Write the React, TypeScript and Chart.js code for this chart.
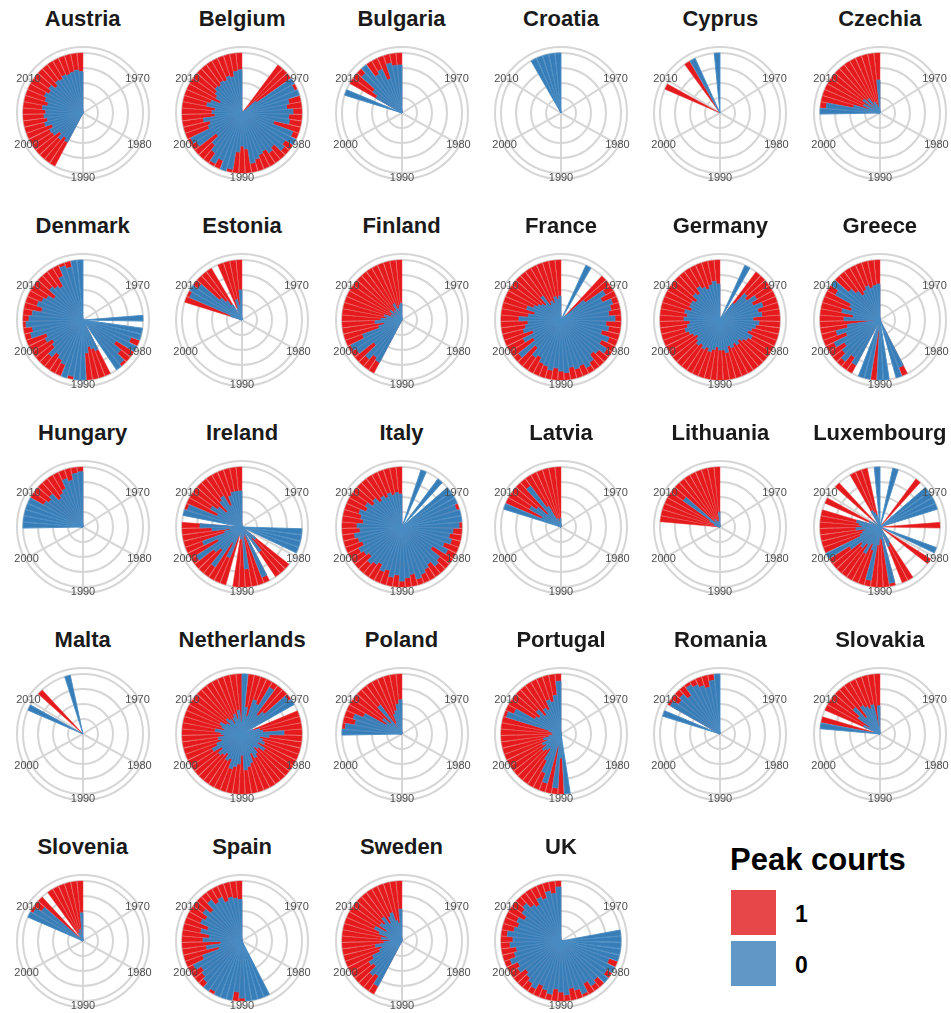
import React, { useEffect, useRef } from 'react';
import { Chart, registerables } from 'chart.js';

Chart.register(...registerables);

// ---------- axis / categories ----------
const YEARS = [
  1961, 1962, 1963, 1964, 1965, 1966, 1967, 1968, 1969, 1970,
  1971, 1972, 1973, 1974, 1975, 1976, 1977, 1978, 1979, 1980,
  1981, 1982, 1983, 1984, 1985, 1986, 1987, 1988, 1989, 1990,
  1991, 1992, 1993, 1994, 1995, 1996, 1997, 1998, 1999, 2000,
  2001, 2002, 2003, 2004, 2005, 2006, 2007, 2008, 2009, 2010,
  2011, 2012, 2013, 2014, 2015, 2016, 2017, 2018, 2019,
];
const DECADES = [1970, 1980, 1990, 2000, 2010];
const R_BREAKS = [0.25, 0.5, 0.75, 1];

const COUNTRIES = [
  'Austria', 'Belgium', 'Bulgaria', 'Croatia', 'Cyprus', 'Czechia',
  'Denmark', 'Estonia', 'Finland', 'France', 'Germany', 'Greece',
  'Hungary', 'Ireland', 'Italy', 'Latvia', 'Lithuania', 'Luxembourg',
  'Malta', 'Netherlands', 'Poland', 'Portugal', 'Romania', 'Slovakia',
  'Slovenia', 'Spain', 'Sweden', 'UK',
];
const START_YEARS = [
  1995, 1967, 2007, 2013, 2004, 2004,
  1973, 2004, 1995, 1961, 1961, 1981,
  2004, 1973, 1961, 2004, 2004, 1961,
  2004, 1961, 2004, 1986, 2007, 2004,
  2004, 1986, 1995, 1973,
];

// ---------- share of references from non-peak courts (0 = blue); remainder = peak courts (1 = red) ----------
// each array starts at the country's START_YEAR; null = no bar that year
const austria = [0.55, 0.5, 0.58, 0.5, 0.6, 0.62, 0.55, 0.66, 0.6, 0.65, 0.62, 0.68, 0.6, 0.66, 0.7, 0.65, 0.7, 0.62, 0.68, 0.66, 0.7, 0.68, 0.7, 0.72, 0.69];
const belgium = [
  0, 0.05, 0.3, 1, 0.95, 1, 0.8, 0.75, 0.85, 0.78,
  0.8, 0.55, 0.9, 1, 0.85, 0.9, 0.75, 0.8, 0.72, 0.75,
  0.8, 0.85, 0.6, 0.55, 0.65, 0.95, 1, 0.85, 0.95, 0.8,
  0.7, 0.55, 0.9, 0.95, 0.6, 0.55, 0.65, 0.45, 0.5, 0.45,
  0.6, 0.55, 0.4, 0.5, 0.55, 0.6, 0.58, 0.62, 0.6, 0.65,
  0.62, 0.7, 0.72,
];
const bulgaria = [null, 1, null, 0.5, 0.6, 0.9, 1, 0.75, 0.8, 0.6, 0.85, 0.8, 0.8];
const croatia = [null, null, 1, 1, 1, 1, 1];
const cyprus = [null, null, null, null, null, 0, null, null, null, null, 0, 1, null, null, null, 1];
const czechia = [null, 1, 0.9, 0.45, 0.2, 0.3, 0.1, 0.35, 0.15, 0.3, 0.1, 0.2, 0.15, 0.05, 0.1, 0.55];
const denmark = [
  null, null, 1, null, 1, 1, 0.85, 1, 0.65, 0.8,
  0.95, 1, null, 0.55, 0.5, 0.45, 0.55, 1, 1, 0.95,
  1, 0.8, 0.75, 0.7, 0.8, 0.65, 0.6, 0.7, 0.65, 0.9,
  0.85, 0.95, 0.9, 0.85, 0.7, 0.8, 0.75, 0.7, 0.6, 0.75,
  0.7, 0.65, 0.8, 0.95, 0.9, 1, 1,
];
const estonia = [null, null, null, null, 0.2, 0.95, 1, 0.9, 0.5, 0.4, 0.3, null, 0.2, 0.35, 0.25, 0.5];
const finland = [0.8, 0.75, 0.85, 0.6, 0.9, 0.95, 0.7, 0.4, 0.3, 0.45, 0.35, 0.25, 0.3, 0.15, 0.2, 0.1, 0.25, 0.15, 0.2, 0.1, 0.3, 0.2, 0.15, 0.25, 0.28];
const france = [
  null, null, null, null, 1, null, null, 0.1, 0.5, 0.85,
  0.75, 0.9, 0.85, 0.8, 0.9, 0.75, 0.8, 0.7, 0.85, 0.75,
  0.9, 0.8, 0.75, 0.85, 0.9, 0.82, 0.85, 0.8, 0.88, 0.85,
  0.8, 0.85, 0.8, 0.78, 0.7, 0.75, 0.6, 0.9, 0.55, 0.7,
  0.5, 0.65, 0.6, 0.55, 0.7, 0.55, 0.45, 0.6, 0.5, 0.45,
  0.4, 0.35, 0.5, 0.3, 0.35, 0.3, 0.4, 0.35, 0.4,
];
const germany = [
  null, null, null, null, 1, null, 0.35, 0.6, 0.55, 0.7,
  0.6, 0.75, 0.65, 0.7, 0.55, 0.65, 0.6, 0.55, 0.5, 0.6,
  0.55, 0.5, 0.45, 0.5, 0.45, 0.5, 0.45, 0.55, 0.5, 0.5,
  0.45, 0.5, 0.55, 0.5, 0.55, 0.5, 0.55, 0.5, 0.45, 0.5,
  0.55, 0.6, 0.55, 0.5, 0.6, 0.55, 0.6, 0.5, 0.55, 0.55,
  0.5, 0.6, 0.55, 0.65, 0.6, 0.55, 0.6, 0.65, 0.6,
];
const greece = [
  null, null, null, null, null, 0.85, 1, null, 1, 1,
  0, 1, 1, null, 0.85, 0.75, 0.9, 0.8, 0.7, 0.85,
  0.6, 0.75, 0.55, 0.1, 0.6, 0.45, 0.65, 0.5, 0.55, 0.85,
  1, 0.7, 0.6, 0.5, 0.55, 0.6, 0.55, 0.58, 0.6,
];
const hungary = [null, 1, 1, 1, 1, 1, 0.75, 0.7, 0.75, 0.6, 0.65, 0.7, 0.85, 0.8, 0.9, 0.92];
const ireland = [
  null, null, null, 1, 1, 1, 1, null, null, 0.3,
  0.25, 0.5, null, 0.9, 0.1, 0.15, 0.7, 0.1, 0.2, null,
  0.15, 0.55, 0.3, 0.8, 0.5, 0.6, 0.9, 0.45, 0.7, 0.3,
  0.2, 0.5, 0.7, null, 1, 0.95, 0.45, 0.6, 0.5, 0.35,
  0.55, 0.6, 0.4, 0.55, 0.6, 0.6, 0.6,
];
const italy = [
  null, null, null, 1, null, null, 1, null, 1, 1,
  1, 0.95, 1, 1, 0.95, 0.85, 0.8, 0.85, 0.75, 0.85,
  0.6, 0.8, 0.85, 0.75, 0.8, 0.85, 0.9, 0.8, 0.85, 0.9,
  0.8, 0.85, 0.75, 0.8, 0.7, 0.75, 0.8, 0.7, 0.75, 0.8,
  0.7, 0.75, 0.8, 0.7, 0.75, 0.65, 0.7, 0.75, 0.65, 0.7,
  0.6, 0.65, 0.55, 0.6, 0.55, 0.6, 0.55, 0.58, 0.55,
];
const latvia = [null, null, null, null, 1, 0.35, 0.6, 0.5, 0.3, 0.85, 0.4, 0.1, 0.15, 0.05, 0.1, 0.15];
const lithuania = [null, null, 0, 0.05, 0.1, 0, 0.2, 0.75, 0.1, 0, 0.15, 0.05, 0.1, 0, 0.05, 0.25];
const luxembourg = [
  null, null, 1, null, null, null, 0, null, 1, 1,
  1, 1, null, null, 0, null, null, null, 1, null,
  0, null, null, null, 0.3, 0.35, null, 0.95, 0.2, 0.15,
  0.3, 0.9, 0.4, 0.3, 0.5, 0.35, 0.45, 0.4, 0.6, 1,
  0.35, 0.3, 0.25, 0.4, 0.3, 0.35, 0.4, null, 0.2, null,
  null, 0.15, null, null, 0.3, 0.25, 0.2, null, 1,
];
const malta = [null, null, null, null, null, 1, null, null, 0, null, null, null, null, 1, null, null];
const netherlands = [
  1, 0.45, 0.3, 0.6, 0.55, 0.9, 0.4, 0.5, 0.95, 1,
  null, 0.2, 0.3, 0.35, 0.7, 0.45, 0.3, 0.35, 0.4, 0.3,
  0.45, 0.35, 0.3, 0.4, 0.45, 0.35, 0.5, 0.55, 0.6, 0.35,
  0.5, 0.55, 0.6, 0.45, 0.5, 0.4, 0.45, 0.5, 0.4, 0.55,
  0.45, 0.35, 0.4, 0.3, 0.35, 0.45, 0.3, 0.35, 0.4, 0.3,
  0.25, 0.35, 0.3, 0.2, 0.3, 0.35, 0.25, 0.4, 0.2,
];
const poland = [null, 1, 0.95, 0.8, 0.85, 0.7, 0.3, 0.4, 0.25, 0.6, 0.1, 0.2, 0.35, 0.4, 0.5, 0.57];
const portugal = [
  null, null, null, 1, 0.4, 0.9, 0.2, 0.85, 0.7, 0.5,
  0.3, 0.35, 0.4, 0.3, 0.35, 0.25, 0.3, 0.2, 0.05, 0.15,
  0.1, 0.2, 0.95, 0.85, 0.5, 0.45, 0.55, 0.4, 0.5, 0.45,
  0.6, 0.55, 0.65, 0.88,
];
const romania = [null, 1, null, 0.95, 0.85, 0.9, 0.8, 0.95, 0.9, 0.85, 0.8, 0.9, 1];
const slovakia = [null, null, 1, 0.1, null, 0.3, 0.2, 0.45, 0.6, 0.35, 0.55, 0.5, 0.45, 0.5, 0.05, 0.47];
const slovenia = [null, null, null, null, null, 1, 0.95, 0.85, 0.1, null, 0.05, 0.15, 0.1, 0.2, 0.1, 0.47];
const spain = [
  1, 1, 1, 1, 0.95, 0.85, 1, 1, 1, 0.95,
  1, 0.9, 0.85, 0.8, 0.9, 0.7, 0.4, 0.6, 0.35, 0.65,
  0.55, 0.7, 0.6, 0.75, 0.7, 0.8, 0.7, 0.85, 0.75, 0.8,
  0.7, 0.75, 0.72, 0.69,
];
const sweden = [0.85, 0.7, 0.75, 0.6, 0.65, 0.55, 0.4, 0.35, 0.45, 0.3, 0.2, 0.35, 0.25, 0.4, 0.5, 0.3, 0.45, 0.4, 0.5, 0.35, 0.45, 0.5, 0.35, 0.3, 0.53];
const uk = [
  null, 1, 1, 1, 1, 1, 0.85, 1, 0.9, 1,
  0.85, 0.9, 0.8, 0.95, 0.85, 0.8, 0.9, 0.85, 0.8, 0.9,
  0.85, 0.8, 0.9, 0.85, 0.8, 0.75, 0.85, 0.8, 0.9, 0.8,
  0.75, 0.85, 0.8, 0.9, 0.8, 0.75, 0.8, 0.7, 0.8, 0.85,
  0.75, 0.7, 0.8, 0.75, 0.85, 0.8, 0.9,
];

const SERIES: (number | null)[][] = [
  austria, belgium, bulgaria, croatia, cyprus, czechia,
  denmark, estonia, finland, france, germany, greece,
  hungary, ireland, italy, latvia, lithuania, luxembourg,
  malta, netherlands, poland, portugal, romania, slovakia,
  slovenia, spain, sweden, uk,
];

const LEGEND_TITLE = 'Peak courts';
const LEGEND_LABELS = ['1', '0'];

// ---------- styling ----------
const RED = '#E41A1C';
const BLUE = '#377EB8';
const BLUE_EDGE = '#4A8CC3';
const RED_EDGE = '#E8383A';
const RED_KEY = '#E8474A';
const BLUE_KEY = '#5F97C7';
const GRID = '#D6D6D6';
const FONT = '"Liberation Sans", Arial, Helvetica, sans-serif';

const BAR_WIDTH = 0.9;
const R_OUTER = 1.1;
const SPAN = YEARS[YEARS.length - 1] - YEARS[0] + BAR_WIDTH;
const BAR_DEG = (BAR_WIDTH / SPAN) * 360;
const GAP_DEG = ((1 - BAR_WIDTH) / SPAN) * 360;

const CANVAS = 160;
const PAD = 14;
const COL_X = [82.7, 242.1, 401.5, 561.0, 720.4, 879.8];
const ROW_Y = [113.3, 320.3, 527.3, 734.3, 941.3];

function yearAngle(y: number) {
  return ((y - (YEARS[0] - BAR_WIDTH / 2)) / SPAN) * Math.PI * 2;
}

const ggGrid = {
  id: 'ggGrid',
  beforeDatasetsDraw(chart: any) {
    const s = chart.scales.r;
    const ctx = chart.ctx as CanvasRenderingContext2D;
    const cx = s.xCenter;
    const cy = s.yCenter;
    const outer = s.getDistanceFromCenterForValue(R_OUTER);
    ctx.save();
    ctx.strokeStyle = GRID;
    ctx.lineWidth = 2;
    for (const v of [...R_BREAKS, R_OUTER]) {
      ctx.beginPath();
      ctx.arc(cx, cy, s.getDistanceFromCenterForValue(v), 0, Math.PI * 2);
      ctx.stroke();
    }
    ctx.beginPath();
    for (const d of DECADES) {
      const a = yearAngle(d);
      ctx.moveTo(cx, cy);
      ctx.lineTo(cx + outer * Math.sin(a), cy - outer * Math.cos(a));
    }
    ctx.stroke();
    ctx.restore();
  },
  afterDatasetsDraw(chart: any) {
    const s = chart.scales.r;
    const ctx = chart.ctx as CanvasRenderingContext2D;
    const cx = s.xCenter;
    const cy = s.yCenter;
    const outer = s.getDistanceFromCenterForValue(R_OUTER) - 1.5;
    ctx.save();
    ctx.fillStyle = '#4D4D4D';
    ctx.font = `11px ${FONT}`;
    ctx.textAlign = 'center';
    ctx.textBaseline = 'middle';
    for (const d of DECADES) {
      const a = yearAngle(d);
      ctx.fillText(String(d), cx + outer * Math.sin(a), cy - outer * Math.cos(a) + 0.5);
    }
    ctx.restore();
  },
};

function Panel({ idx }: { idx: number }) {
  const ref = useRef<HTMLCanvasElement>(null);
  const col = idx % 6;
  const row = Math.floor(idx / 6);
  const cx = COL_X[col];
  const cy = ROW_Y[row];

  useEffect(() => {
    const start = START_YEARS[idx];
    const vals = SERIES[idx];
    const labels: string[] = [];
    const blue: number[] = [];
    const red: number[] = [];
    YEARS.forEach((y, i) => {
      const k = y - start;
      const v = k >= 0 && k < vals.length ? vals[k] : null;
      labels.push(String(y));
      blue.push(v == null ? 0 : v);
      red.push(v == null ? 0 : v < 1 ? 1 : 0);
      if (i < YEARS.length - 1) {
        labels.push('');
        blue.push(0);
        red.push(0);
      }
    });
    const angleFn = (c: any) => (c.dataIndex % 2 === 0 ? BAR_DEG : GAP_DEG);
    const chart = new Chart(ref.current as HTMLCanvasElement, {
      type: 'polarArea',
      data: {
        labels,
        datasets: [
          // other courts (0): inner part of the stack (dataset 0 is painted last, on top)
          {
            label: '0',
            data: blue,
            backgroundColor: BLUE,
            borderColor: BLUE_EDGE,
            borderWidth: (c: any) => (c.raw > 0 ? 0.9 : 0),
            angle: angleFn,
          } as any,
          // peak courts (1): full stack height, painted underneath
          {
            label: '1',
            data: red,
            backgroundColor: RED,
            borderColor: RED_EDGE,
            borderWidth: (c: any) => (c.raw > 0 ? 0.5 : 0),
            angle: angleFn,
          } as any,
        ],
      },
      options: {
        animation: false,
        responsive: false,
        events: [],
        layout: { padding: PAD },
        plugins: { legend: { display: false }, tooltip: { enabled: false } },
        scales: {
          r: {
            min: 0,
            max: R_OUTER,
            ticks: { display: false },
            grid: { display: false },
            angleLines: { display: false },
            pointLabels: { display: false },
          },
        },
      } as any,
      plugins: [ggGrid],
    });
    return () => chart.destroy();
  }, [idx]);

  return (
    <>
      <div
        style={{
          position: 'absolute',
          left: cx - 80,
          top: cy - 87 - 18.6,
          width: 160,
          textAlign: 'center',
          fontFamily: FONT,
          fontWeight: 'bold',
          fontSize: 22,
          lineHeight: '22px',
          color: '#1A1A1A',
          whiteSpace: 'nowrap',
        }}
      >
        {COUNTRIES[idx]}
      </div>
      <canvas
        ref={ref}
        width={CANVAS}
        height={CANVAS}
        style={{ position: 'absolute', left: cx - CANVAS / 2, top: cy - CANVAS / 2, width: CANVAS, height: CANVAS }}
      />
    </>
  );
}

export default function App() {
  return (
    <div style={{ position: 'absolute', left: 0, top: 0, width: 951, height: 1013, background: '#FFFFFF', overflow: 'hidden' }}>
      {COUNTRIES.map((_, i) => (
        <Panel key={COUNTRIES[i]} idx={i} />
      ))}
      <div
        style={{
          position: 'absolute',
          left: 730,
          top: 869.7 - 26.2,
          fontFamily: FONT,
          fontWeight: 'bold',
          fontSize: 31,
          lineHeight: '31px',
          color: '#000',
          whiteSpace: 'nowrap',
        }}
      >
        {LEGEND_TITLE}
      </div>
      {LEGEND_LABELS.map((lab, i) => (
        <React.Fragment key={lab}>
          <div
            style={{
              position: 'absolute',
              left: 731,
              top: 890 + i * 51,
              width: 45,
              height: 45,
              background: i === 0 ? RED_KEY : BLUE_KEY,
            }}
          />
          <div
            style={{
              position: 'absolute',
              left: 795,
              top: 924 + i * 51 - 21,
              fontFamily: FONT,
              fontWeight: 'bold',
              fontSize: 23,
              lineHeight: '23px',
              color: '#000',
            }}
          >
            {lab}
          </div>
        </React.Fragment>
      ))}
    </div>
  );
}
